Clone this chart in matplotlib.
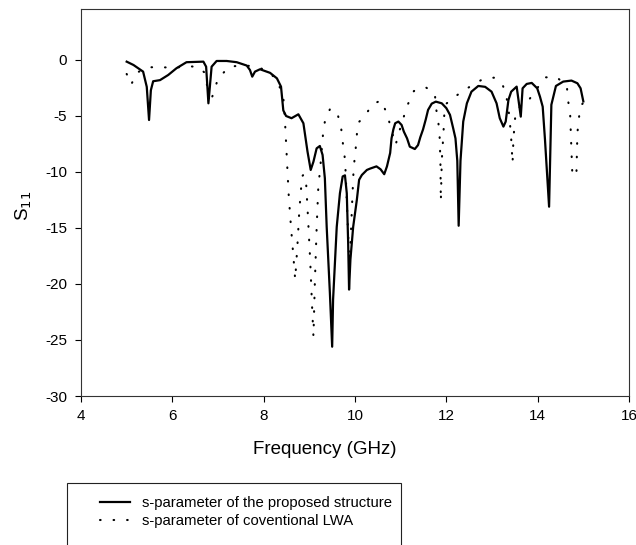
import matplotlib
matplotlib.use("Agg")
import matplotlib.pyplot as plt
from matplotlib.patches import Rectangle

plt.rcParams['font.family'] = ['Liberation Sans', 'DejaVu Sans']
plt.rcParams['axes.unicode_minus'] = False

# s-parameter of the proposed structure (solid)
f_prop = [5.0, 5.15, 5.36, 5.44, 5.49, 5.53, 5.58, 5.73, 5.91, 6.09, 6.31, 6.68, 6.74,
          6.79, 6.86, 6.97, 7.19, 7.41, 7.63, 7.70, 7.75, 7.81, 7.92, 8.14, 8.29, 8.38,
          8.43, 8.49, 8.61, 8.76, 8.87, 8.96, 9.03, 9.09, 9.16, 9.23, 9.29, 9.34, 9.38,
          9.45, 9.50, 9.52, 9.60, 9.67, 9.73, 9.78, 9.82, 9.85, 9.87, 9.90, 9.96, 10.04,
          10.09, 10.15, 10.26, 10.33, 10.47, 10.56, 10.64, 10.70, 10.77, 10.80, 10.84,
          10.88, 10.95, 11.02, 11.07, 11.14, 11.20, 11.31, 11.38, 11.43, 11.49, 11.55,
          11.60, 11.68, 11.77, 11.90, 12.00, 12.08, 12.15, 12.20, 12.24, 12.27, 12.31,
          12.37, 12.45, 12.55, 12.70, 12.85, 12.99, 13.10, 13.17, 13.25, 13.30, 13.36,
          13.42, 13.50, 13.54, 13.63, 13.67, 13.76, 13.87, 13.99, 14.05, 14.11, 14.16,
          14.25, 14.30, 14.40, 14.56, 14.74, 14.87, 14.94, 15.0]
s_prop = [-0.15, -0.45, -1.04, -2.4, -5.36, -2.7, -1.9, -1.8, -1.34, -0.74, -0.2, -0.15, -0.6,
          -3.87, -0.6, -0.09, -0.09, -0.2, -0.5, -0.9, -1.49, -1.04, -0.83, -1.15, -1.64, -2.38,
          -4.5, -5.0, -5.2, -4.85, -5.65, -8.18, -9.82, -9.08, -7.89, -7.68, -8.48, -10.56, -14.9,
          -20.8, -25.6, -21.4, -14.9, -11.9, -10.4, -10.3, -11.9, -16.3, -20.5, -17.8, -14.9, -12.5,
          -10.7, -10.27, -9.82, -9.7, -9.5, -9.76, -10.2, -9.5, -8.3, -7.0, -6.2,
          -5.65, -5.5, -5.8, -6.4, -7.0, -7.74, -7.95, -7.6, -6.9, -6.2, -5.3,
          -4.46, -3.9, -3.72, -3.87, -4.3, -4.9, -6.1, -7.0, -9.0, -14.8, -9.0,
          -5.5, -3.87, -2.83, -2.32, -2.4, -2.83, -3.87, -5.2, -5.95, -5.5, -3.57,
          -2.83, -2.53, -2.38, -5.06, -2.53, -2.14, -2.05, -2.53, -3.27, -4.17, -7.1,
          -13.1, -4.0, -2.32, -1.93, -1.84, -2.08, -2.53, -3.7]

# s-parameter of conventional LWA (dotted)
f_conv = [5.0, 5.1, 5.22, 5.49, 5.77, 6.06, 6.33, 6.59, 6.72, 6.82, 6.92, 7.0, 7.25, 7.5,
          7.77, 8.05, 8.25, 8.42, 8.45, 8.48, 8.52, 8.55, 8.60, 8.65, 8.69, 8.74, 8.78, 8.84,
          8.88, 8.93, 8.97, 9.02, 9.06, 9.09, 9.12, 9.16, 9.20, 9.23, 9.30, 9.34, 9.46, 9.63,
          9.70, 9.73, 9.77, 9.79, 9.88, 9.94, 9.97, 10.02, 10.05, 10.07, 10.22, 10.37, 10.57,
          10.69, 10.77, 10.84, 10.89, 10.95, 11.04, 11.12, 11.29, 11.55, 11.75, 11.77, 11.82,
          11.85, 11.87, 11.88, 11.90, 11.94, 11.95, 11.97, 12.15, 12.36, 12.58, 12.79, 13.04,
          13.22, 13.31, 13.38, 13.42, 13.45, 13.47, 13.52, 13.82, 14.16, 14.42, 14.64, 14.66,
          14.71, 14.73, 14.76, 14.80, 14.85, 14.87, 14.93, 15.0]
s_conv = [-1.25, -2.2, -1.13, -0.65, -0.65, -0.7, -0.54, -0.65, -1.2, -3.9, -2.74, -1.64, -0.6, -0.5,
          -0.54, -0.9, -1.6, -3.0, -4.2, -6.5, -9.8, -12.2, -15.0, -17.5, -19.6, -16.5, -13.5, -10.4,
          -10.2, -11.0, -14.0, -18.0, -22.0, -24.7, -20.0, -15.0, -11.0, -10.1, -6.6, -5.5, -4.3, -5.0,
          -6.2, -7.3, -8.5, -9.6, -18.5, -12.5, -9.7, -7.7, -6.2, -5.6, -5.0, -4.0, -3.6,
          -4.7, -5.8, -6.9, -7.6, -6.6, -5.5, -4.3, -2.77, -2.44, -3.04, -4.2, -5.4,
          -6.5, -9.0, -12.6, -9.0, -6.3, -5.2, -4.0, -3.4, -2.77, -2.23, -1.73, -1.58,
          -2.08, -3.1, -5.0, -7.0, -9.2, -7.0, -4.5, -3.5, -1.55, -1.55, -2.32, -3.5,
          -4.67, -7.0, -10.3, -10.4, -9.9, -6.5, -4.2, -3.8]

legend_labels = ['s-parameter of the proposed structure', 's-parameter of coventional LWA']

fig = plt.figure(figsize=(6.36, 5.45), dpi=100)
ax = fig.add_axes([81/636, 1 - 396/545, 548/636, 387/545])

l1, = ax.plot(f_prop, s_prop, color='black', lw=1.6, solid_joinstyle='round')
l2, = ax.plot(f_conv, s_conv, color='black', lw=1.5, linestyle=(0, (0.3, 6.2)),
              dash_capstyle='round')

ax.set_xlim(4, 16)
ax.set_ylim(-30, 4.55)
ax.set_xticks(range(4, 17, 2))
ax.set_yticks(range(-30, 1, 5))
ax.tick_params(axis='both', direction='out', length=4, width=0.8, labelsize=11, colors='black')
ax.tick_params(axis='x', pad=5)
ax.tick_params(axis='y', pad=6)
for sp in ax.spines.values():
    sp.set_linewidth(0.8)
    sp.set_color('#333333')

ax.set_xlabel('Frequency (GHz)', fontsize=13.5)
ax.xaxis.set_label_coords(0.445, -0.115)
ax.set_ylabel('S$_{11}$', fontsize=13.5)
ax.yaxis.set_label_coords(-0.085, 0.49)

# legend frame, cut by the bottom edge of the picture
fig.patches.append(Rectangle((67/636, -0.05), (401 - 67)/636, (545 - 483)/545 + 0.05,
                             transform=fig.transFigure, fill=False, ec='#222222', lw=0.8))
fig.legend([l1, l2], legend_labels, loc='upper left', bbox_to_anchor=(100/636, 1 - 496/545),
           frameon=False, borderpad=0, borderaxespad=0, fontsize=10.7, handlelength=2.0,
           handletextpad=0.8, labelspacing=0.25)

fig.savefig('out.png', dpi=100)
